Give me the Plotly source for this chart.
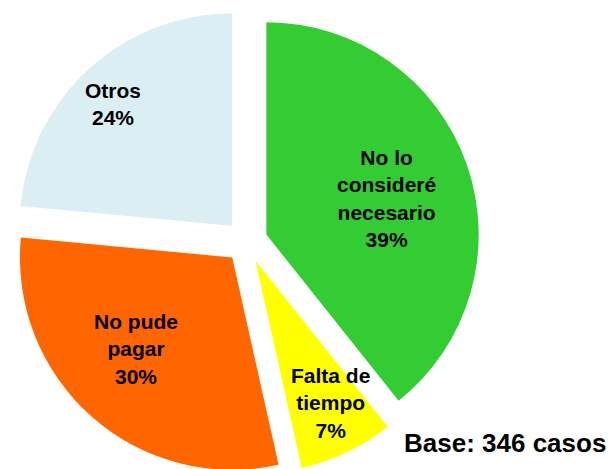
import plotly.graph_objects as go

labels = ["No lo<br>consideré<br>necesario", "Falta de<br>tiempo", "No pude<br>pagar", "Otros"]
values = [39.3, 7.2, 30.0, 23.5]          # slice shares
pct_text = ["39%", "7%", "30%", "24%"]     # percentages printed on the chart
colors = ["#33CC33", "#FFFF00", "#FF6600", "#DAEEF3"]
base_text = "Base: 346 casos"

W, H = 615, 469
OFF = 8  # page body margin offset
# label centres in screen pixels (style/position only)
label_pos = [(386, 199), (330, 403), (136, 349), (113, 104)]

fig = go.Figure(go.Pie(
    labels=labels,
    values=values,
    marker=dict(colors=colors, line=dict(width=0)),
    sort=False,
    direction="clockwise",
    rotation=0,
    pull=[0.1] * len(values),
    textinfo="none",
    hoverinfo="label+percent",
    showlegend=False,
    domain=dict(x=[0.006, 0.769], y=[0.004, 1]),
))

font_lbl = dict(family="Liberation Sans, Arial, sans-serif", size=21, color="black", weight="bold")
annotations = []
for lab, pct, (px, py) in zip(labels, pct_text, label_pos):
    annotations.append(dict(
        text=f"{lab}<br>{pct}", x=(px - OFF) / W, y=1 - (py - OFF) / H, xref="paper", yref="paper",
        xanchor="center", yanchor="middle", showarrow=False, font=font_lbl, align="center",
    ))
annotations.append(dict(
    text=base_text, x=(608 - OFF) / W, y=1 - (443 - OFF) / H, xref="paper", yref="paper",
    xanchor="right", yanchor="middle", showarrow=False,
    font=dict(family="Liberation Sans, Arial, sans-serif", size=26, color="black", weight="bold"),
))

fig.update_layout(
    width=W, height=H,
    margin=dict(l=0, r=0, t=0, b=0),
    paper_bgcolor="white",
    plot_bgcolor="white",
    annotations=annotations,
)

fig.write_html("out.html")
